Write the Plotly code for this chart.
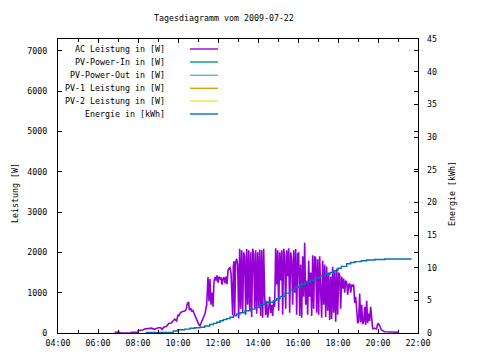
import plotly.graph_objects as go

DAY = "2009-07-22"

# AC power [W]
AC_TIME = ["06:50", "07:05", "07:06", "07:38", "07:40", "08:00", "08:01", "08:15", "08:20", "08:35",
           "08:40", "08:50", "09:00", "09:08", "09:12", "09:18", "09:25", "09:33", "09:40", "09:50",
           "09:56", "10:00", "10:03", "10:06", "10:12", "10:20", "10:25", "10:28", "10:32", "10:34",
           "10:38", "10:41", "10:44", "10:48", "10:54", "10:58", "11:03", "11:06", "11:12", "11:16",
           "11:21", "11:26", "11:27", "11:30", "11:33", "11:36", "11:39", "11:42", "11:45", "11:48",
           "11:51", "11:54", "11:57", "12:00", "12:03", "12:06", "12:09", "12:12", "12:15", "12:18",
           "12:21", "12:24", "12:27", "12:30", "12:33", "12:36", "12:39", "12:42", "12:44", "12:46",
           "12:48", "12:50", "12:53", "12:56", "12:59", "13:02", "13:05", "13:08", "13:11", "13:14",
           "13:17", "13:20", "13:23", "13:26", "13:29", "13:32", "13:35", "13:38", "13:41", "13:44",
           "13:47", "13:50", "13:53", "13:56", "13:59", "14:02", "14:05", "14:08", "14:11", "14:14",
           "14:17", "14:20", "14:23", "14:26", "14:29", "14:32", "14:35", "14:38", "14:41", "14:44",
           "14:47", "14:50", "14:53", "14:56", "14:59", "15:02", "15:05", "15:08", "15:11", "15:14",
           "15:17", "15:20", "15:23", "15:26", "15:29", "15:32", "15:35", "15:38", "15:41", "15:44",
           "15:47", "15:50", "15:53", "15:56", "15:59", "16:02", "16:05", "16:08", "16:11", "16:14",
           "16:17", "16:20", "16:23", "16:26", "16:29", "16:32", "16:35", "16:38", "16:41", "16:44",
           "16:47", "16:50", "16:53", "16:56", "16:59", "17:02", "17:05", "17:08", "17:11", "17:14",
           "17:17", "17:20", "17:23", "17:26", "17:29", "17:32", "17:35", "17:38", "17:41", "17:44",
           "17:47", "17:50", "17:53", "17:56", "17:59", "18:02", "18:05", "18:08", "18:11", "18:14",
           "18:17", "18:20", "18:23", "18:26", "18:29", "18:32", "18:35", "18:38", "18:41", "18:44",
           "18:47", "18:50", "18:53", "18:56", "18:59", "19:02", "19:05", "19:08", "19:11", "19:14",
           "19:17", "19:20", "19:23", "19:26", "19:29", "19:32", "19:35", "19:38", "19:41", "19:44",
           "19:50", "19:55", "20:00", "20:05", "20:10", "20:15", "20:20", "21:00"]
AC_W = [20, 20, 0, 0, 20, 20, 60, 75, 100, 110,
        120, 90, 130, 130, 90, 150, 160, 240, 250, 345,
        300, 450, 420, 490, 530, 545, 590, 730, 770, 570,
        615, 530, 570, 490, 370, 255, 200, 180, 300, 360,
        485, 690, 900, 1390, 780, 1340, 700, 1000, 650, 1270,
        1390, 1300, 1430, 1250, 1400, 1330, 1380, 1200, 1350, 1380,
        1230, 1400, 1210, 1550, 1600, 1620, 1500, 940, 445, 1650,
        1780, 445, 1750, 1840, 1700, 360, 2090, 600, 2050, 500,
        2000, 1900, 450, 2080, 700, 2050, 550, 2000, 400, 2090,
        1950, 600, 2050, 480, 2000, 650, 2070, 420, 2050, 380,
        2090, 900, 450, 800, 380, 600, 900, 500, 700, 420,
        800, 650, 2100, 1200, 2050, 550, 2000, 1300, 2050, 450,
        2090, 1900, 600, 2050, 1400, 2100, 500, 2000, 1800, 700,
        2050, 1000, 2080, 450, 1950, 2000, 420, 1700, 380, 1900,
        900, 2240, 700, 1300, 450, 1800, 900, 1500, 420, 1930,
        600, 1900, 1850, 500, 1830, 450, 1900, 1050, 380, 1800,
        700, 1700, 400, 1650, 550, 1500, 320, 1400, 350, 1640,
        500, 1550, 280, 1600, 450, 1500, 1430, 600, 1400, 1100,
        1350, 1000, 1300, 1250, 950, 1200, 1230, 1000, 1200, 1150,
        1200, 750, 900, 600, 240, 300, 980, 260, 700, 220,
        280, 650, 200, 800, 250, 480, 300, 650, 400, 110,
        115, 100, 240, 180, 75, 60, 30, 20]

# Energy [kWh]
EN_TIME = ["08:23", "09:46", "10:00", "10:20", "10:36", "10:50", "11:06", "11:20", "11:35", "11:46",
           "11:56", "12:06", "12:16", "12:26", "12:36", "12:46", "12:56", "13:06", "13:21", "13:36",
           "13:51", "14:06", "14:21", "14:46", "14:56", "15:06", "15:21", "15:36", "15:51", "16:06",
           "16:21", "16:36", "16:51", "17:06", "17:21", "17:36", "17:48", "18:00", "18:10", "18:26",
           "18:38", "18:51", "19:10", "19:26", "19:50", "20:21", "21:41"]
EN_KWH = [0.1, 0.3, 0.5, 0.6, 0.72, 0.8, 0.87, 1.07, 1.3, 1.48,
          1.65, 1.88, 2.05, 2.2, 2.4, 2.65, 2.9, 3.1, 3.4, 3.65,
          3.9, 4.4, 4.7, 4.95, 5.25, 5.6, 6.1, 6.6, 7.0, 7.45,
          7.8, 8.1, 8.45, 8.75, 9.0, 9.25, 9.55, 9.9, 10.2, 10.6,
          10.8, 10.92, 11.05, 11.18, 11.25, 11.33, 11.33]

LEGEND_LABELS = ["AC Leistung in [W]", "PV-Power-In in [W]", "PV-Power-Out in [W]",
                 "PV-1 Leistung in [W]", "PV-2 Leistung in [W]", "Energie in [kWh]"]
LEGEND_COLORS = ["#9400D3", "#009E73", "#56B4E9", "#E69F00", "#F0E442", "#0072B2"]

FONT = "DejaVu Sans Mono"
FS = 8.3

fig = go.Figure()
fig.add_trace(go.Scatter(x=[f"{DAY} {t}" for t in AC_TIME], y=AC_W, mode="lines",
                         line=dict(color=LEGEND_COLORS[0], width=1.6), showlegend=False))
for c in LEGEND_COLORS[1:5]:
    fig.add_trace(go.Scatter(x=[], y=[], mode="lines", line=dict(color=c), showlegend=False))
fig.add_trace(go.Scatter(x=[f"{DAY} {t}" for t in EN_TIME], y=EN_KWH, mode="lines",
                         line=dict(color=LEGEND_COLORS[5], width=1.4, shape="hv"),
                         yaxis="y2", showlegend=False))

# plot area in screen pixels: x 58..418, y 39..333
def px(x):
    return (x - 58) / 360.0

def py(y):
    return (333 - y) / 294.0

rows = [49, 62, 75.3, 88.3, 101, 114]
for lab, col, r in zip(LEGEND_LABELS, LEGEND_COLORS, rows):
    fig.add_annotation(x=px(167), y=py(r), xref="paper", yref="paper", text=lab,
                       showarrow=False, xanchor="right", yanchor="middle",
                       font=dict(family=FONT, size=FS, color="black"))
    fig.add_shape(type="line", xref="paper", yref="paper", x0=px(190), x1=px(218),
                  y0=py(r), y1=py(r), line=dict(color=col, width=1.4))

fig.add_annotation(x=px(224), y=py(18), xref="paper", yref="paper",
                   text="Tagesdiagramm vom 2009-07-22", showarrow=False,
                   xanchor="center", yanchor="middle", font=dict(family=FONT, size=FS, color="black"))
fig.add_annotation(x=px(15), y=py(193), xref="paper", yref="paper", text="Leistung [W]",
                   textangle=-90, showarrow=False, xanchor="center", yanchor="middle",
                   font=dict(family=FONT, size=FS, color="black"))
fig.add_annotation(x=px(452), y=py(194), xref="paper", yref="paper", text="Energie [kWh]",
                   textangle=-90, showarrow=False, xanchor="center", yanchor="middle",
                   font=dict(family=FONT, size=FS, color="black"))

tickfont = dict(family=FONT, size=FS, color="black")
fig.update_layout(
    width=472, height=352,
    margin=dict(l=50, r=62, t=31, b=27),
    paper_bgcolor="white", plot_bgcolor="white",
    xaxis=dict(type="date", range=[f"{DAY} 04:00", f"{DAY} 22:00"],
               tick0=f"{DAY} 04:00", dtick=7200000, tickformat="%H:%M",
               ticks="inside", ticklen=4, tickcolor="black", mirror="ticks",
               showline=True, linecolor="black", linewidth=1, showgrid=False,
               zeroline=False, tickfont=tickfont, ticklabelstandoff=2,
               minor=dict(dtick=3600000, ticks="inside", ticklen=3, tickcolor="black", showgrid=False)),
    yaxis=dict(range=[0, 7290], dtick=1000, ticks="inside", ticklen=4, tickcolor="black",
               mirror="ticks", showline=True, linecolor="black", linewidth=1,
               showgrid=False, zeroline=False, tickfont=tickfont, ticklabelstandoff=8),
    yaxis2=dict(range=[0, 45], dtick=5, overlaying="y", side="right", ticks="inside",
                ticklen=4, tickcolor="black", showline=False, showgrid=False, zeroline=False,
                tickfont=tickfont, ticklabelstandoff=8),
)

fig.write_html("out.html")
